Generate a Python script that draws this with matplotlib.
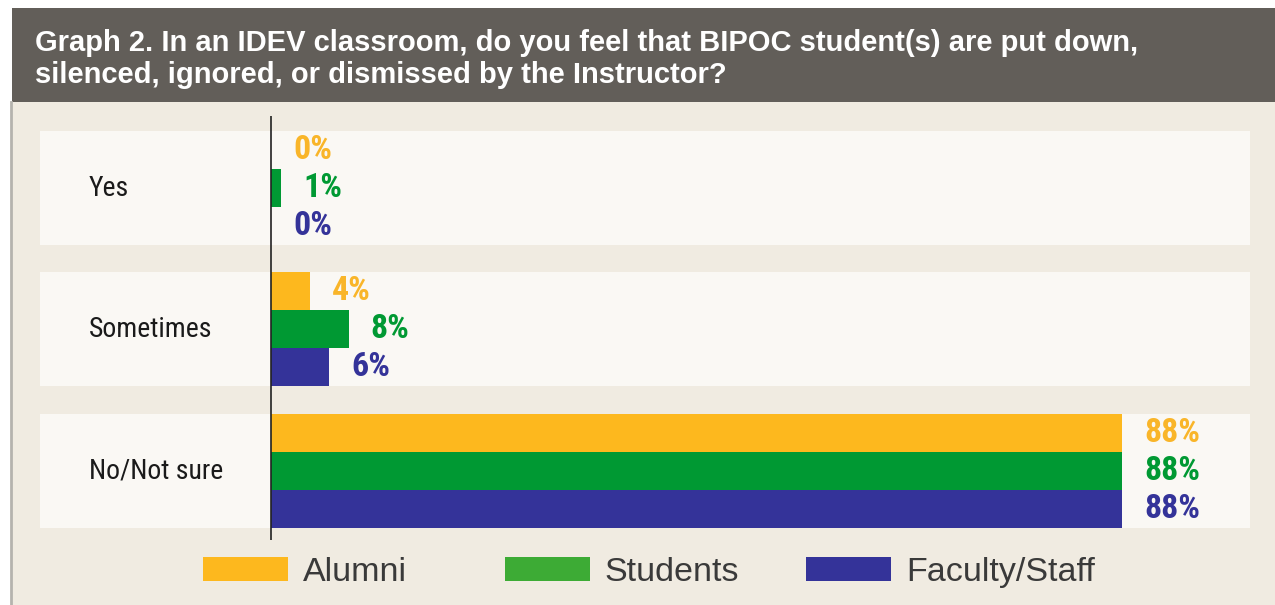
import matplotlib
matplotlib.use("Agg")
import matplotlib.pyplot as plt
from matplotlib.patches import Rectangle
from matplotlib.transforms import blended_transform_factory
from matplotlib import font_manager

categories = ["Yes", "Sometimes", "No/Not sure"]
series = ["Alumni", "Students", "Faculty/Staff"]
alumni = [0, 4, 88]
students = [1, 8, 88]
faculty = [0, 6, 88]
values = [alumni, students, faculty]
title = ("Graph 2. In an IDEV classroom, do you feel that BIPOC student(s) are put down,\n"
         "silenced, ignored, or dismissed by the Instructor?")

bar_colors = ["#fdb81e", "#009933", "#343399"]
legend_colors = ["#fdb81e", "#3dab35", "#343399"]
label_colors = ["#f9b529", "#009933", "#343399"]

names = {f.name for f in font_manager.fontManager.ttflist}
cond = None
for c in ["Liberation Sans Narrow", "Roboto Condensed", "Open Sans Condensed", "Arial Narrow"]:
    if c in names:
        cond = c
        break
cond_kw = {"family": cond} if cond else {"family": "DejaVu Sans", "stretch": "condensed"}

W, H = 1275, 605
fig = plt.figure(figsize=(W / 100, H / 100), dpi=100)
fig.patch.set_facecolor("white")

def fx(px):
    return px / W

def fy(py):
    return 1 - py / H

# cream background
fig.patches.append(Rectangle((fx(12), 0), 1 - fx(12), fy(102), transform=fig.transFigure,
                             facecolor="#f0ebe1", edgecolor="none", zorder=-3))
# left border
fig.lines.append(plt.Line2D([fx(11), fx(11)], [0, fy(102)], transform=fig.transFigure,
                            color="#b5b3ae", lw=2, zorder=-2))
# header
fig.patches.append(Rectangle((fx(12), fy(102)), 1 - fx(12), fy(8) - fy(102), transform=fig.transFigure,
                             facecolor="#625e59", edgecolor="none", zorder=-3))
fig.text(fx(35), fy(29), title, color="white", fontsize=21, fontweight="bold",
         family=["Liberation Sans", "DejaVu Sans"], va="top", ha="left", linespacing=1.18)

ax = fig.add_axes([fx(40), fy(540), fx(1250) - fx(40), fy(116) - fy(540)])
ax.set_facecolor("none")
ax.set_xlim(-23.9, 101.2)
h = 0.2686
ax.set_ylim(len(categories) - 1 + 0.488, -0.509)
for s in ax.spines.values():
    s.set_visible(False)
ax.set_xticks([])
ax.set_yticks([])

ypos = list(range(len(categories)))
for y in ypos:
    ax.axhspan(y - 1.5 * h, y + 1.5 * h, color="#faf8f4", zorder=0, lw=0)

for i, (vals, col, lcol) in enumerate(zip(values, bar_colors, label_colors)):
    ys = [y + (i - 1) * h for y in ypos]
    ax.barh(ys, vals, height=h, color=col, zorder=2, lw=0)
    for y, v in zip(ys, vals):
        ax.annotate(f"{v}%", xy=(v, y), xytext=(16, 0), textcoords="offset points",
                    va="center", ha="left", color=lcol, fontsize=24.5, fontweight="bold",
                    **cond_kw)

ax.axvline(0, color="#222222", lw=1.2, zorder=3)

tr = blended_transform_factory(ax.transAxes, ax.transData)
for y, c in zip(ypos, categories):
    ax.text((89 - 40) / 1210, y, c, transform=tr, va="center", ha="left",
            fontsize=20, color="#1a1a1a", **cond_kw)

# legend: equal-width columns
leg_x0 = 203
leg_step = 301.5
for k, (s, c) in enumerate(zip(series, legend_colors)):
    x = leg_x0 + k * leg_step
    fig.patches.append(Rectangle((fx(x), fy(581)), fx(85), fy(557) - fy(581),
                                 transform=fig.transFigure, facecolor=c, edgecolor="none"))
    fig.text(fx(x + 100), fy(569), s, color="#3a3a3a", fontsize=24.5,
             family=["Liberation Sans", "DejaVu Sans"], va="center_baseline", ha="left")

fig.savefig("out.png", dpi=100, facecolor="white")
